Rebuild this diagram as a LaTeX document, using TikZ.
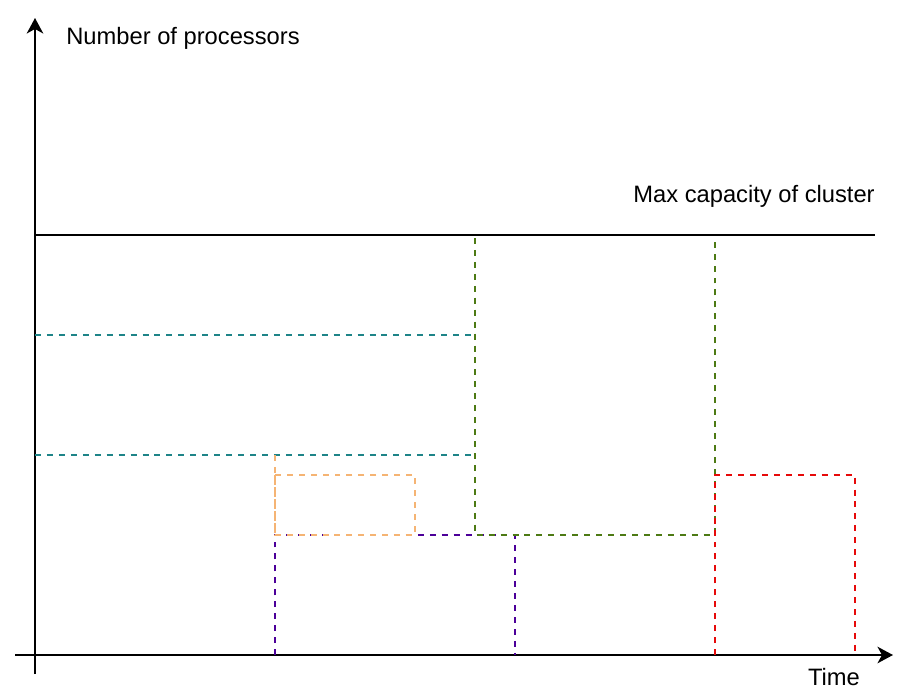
\documentclass[tikz,border=0pt]{standalone}
\usepackage{fontspec}
\setmainfont{Liberation Sans}
\usetikzlibrary{arrows.meta,positioning}

\definecolor{jobteal}{RGB}{30,132,136}
\definecolor{joborange}{RGB}{245,180,116}
\definecolor{jobpurple}{RGB}{76,0,153}
\definecolor{jobgreen}{RGB}{77,122,20}
\definecolor{jobred}{RGB}{230,10,10}

\begin{document}
\begin{tikzpicture}[
  x=0.02cm, y=-0.02cm,
  axis/.style={line width=1.15pt, -{Stealth[length=3.1mm, width=3.3mm, inset=0.9mm]}},
  capline/.style={line width=1.15pt},
  job/.style={line width=0.95pt, dash pattern=on 3.4pt off 3.4pt},
  lbl/.style={font=\fontsize{13.5}{16}\selectfont, inner sep=0pt}
]
\useasboundingbox (0,0) rectangle (912,696);

% axes
\coordinate (ybot) at (35,674);
\coordinate (ytop) at (35,18);
\coordinate (xleft) at (15,655);
\coordinate (xright) at (893,655);
\draw[axis] (ybot) -- (ytop);
\draw[axis] (xleft) -- (xright);

\node[lbl, anchor=west] (ylabel) at (66,38) {Number of processors};
\node[lbl] (xlabel) at (834,677) {Time};

% cluster capacity
\coordinate (capl) at (35,235);
\coordinate (capr) at (875,235);
\draw[capline] (capl) -- (capr);
\node[lbl, anchor=east] (caplabel) at (875,196) {Max capacity of cluster};

% jobs
\foreach \y in {335,455}
  \draw[job, jobteal] (35,\y) -- (473,\y);

\draw[job, jobpurple] (275,655) -- (275,535) -- (515,535) -- (515,655);
\draw[job, joborange] (275,455) -- (275,535);
\draw[job, joborange] (275,475) rectangle (415,535);
\draw[job, jobgreen] (475,238) -- (475,535) -- (715,535) -- (715,238);
\draw[job, jobred] (715,655) -- (715,475) -- (855,475) -- (855,655);

\end{tikzpicture}
\end{document}
